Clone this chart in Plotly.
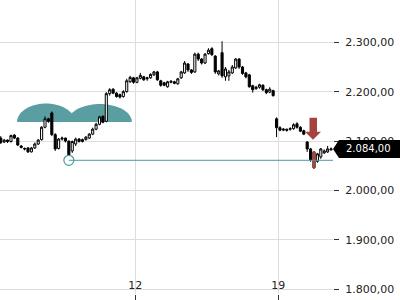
import numpy as np
import pandas as pd
import plotly.graph_objects as go

# ---- data (4-hour candles) ----
opens = [2106, 2098, 2102, 2099, 2112, 2106, 2090, 2085, 2086, 2078,
         2086, 2094, 2103, 2128, 2145, 2157, 2113, 2085, 2104, 2106,
         2100, 2080, 2094, 2104, 2099, 2103, 2106, 2114, 2124, 2134,
         2150, 2140, 2196, 2205, 2197, 2194, 2190, 2200, 2220, 2228,
         2219, 2227, 2230, 2226, 2228, 2234, 2240, 2222, 2218, 2210,
         2219, 2220, 2216, 2228, 2238, 2256, 2244, 2240, 2276, 2266,
         2258, 2277, 2287, 2272, 2236, 2279, 2230, 2232, 2238, 2248,
         2266, 2250, 2238, 2234, 2212, 2206, 2209, 2213, 2204, 2199,
         2202, 2145, 2127, 2122, 2124, 2124, 2125, 2135, 2128, 2121,
         2098, 2084, 2078, 2059, 2068, 2076, 2078, 2082]
highs = [2110, 2104, 2103, 2113, 2114, 2108, 2092, 2087, 2088, 2088,
         2097, 2104, 2130, 2150, 2147, 2160, 2116, 2106, 2109, 2107,
         2101, 2101, 2107, 2106, 2105, 2110, 2116, 2127, 2137, 2151,
         2152, 2199, 2207, 2207, 2199, 2196, 2203, 2226, 2232, 2230,
         2230, 2238, 2232, 2230, 2237, 2242, 2242, 2224, 2220, 2222,
         2223, 2222, 2228, 2242, 2262, 2258, 2246, 2279, 2279, 2268,
         2278, 2288, 2290, 2274, 2244, 2302, 2250, 2244, 2254, 2268,
         2268, 2252, 2240, 2236, 2214, 2212, 2216, 2215, 2206, 2209,
         2204, 2148, 2130, 2126, 2125, 2128, 2136, 2138, 2130, 2123,
         2100, 2086, 2079, 2076, 2086, 2083, 2090, 2087]
lows = [2094, 2096, 2096, 2097, 2104, 2090, 2085, 2081, 2076, 2077,
        2084, 2092, 2101, 2126, 2137, 2110, 2080, 2083, 2101, 2097,
        2061, 2076, 2090, 2097, 2097, 2101, 2104, 2112, 2122, 2132,
        2136, 2138, 2192, 2195, 2188, 2186, 2188, 2198, 2218, 2216,
        2217, 2225, 2222, 2222, 2226, 2232, 2222, 2210, 2211, 2208,
        2217, 2215, 2214, 2226, 2236, 2240, 2236, 2238, 2262, 2255,
        2256, 2275, 2272, 2236, 2233, 2228, 2222, 2222, 2236, 2246,
        2246, 2234, 2227, 2208, 2198, 2204, 2206, 2201, 2195, 2197,
        2190, 2108, 2120, 2120, 2119, 2121, 2123, 2125, 2118, 2112,
        2078, 2058, 2044, 2056, 2064, 2074, 2076, 2081]
closes = [2097, 2102, 2099, 2111, 2106, 2092, 2087, 2084, 2078, 2086,
          2094, 2102, 2128, 2145, 2140, 2113, 2084, 2104, 2106, 2100,
          2066, 2099, 2104, 2099, 2103, 2108, 2114, 2124, 2134, 2149,
          2138, 2196, 2204, 2197, 2190, 2189, 2200, 2222, 2229, 2219,
          2228, 2233, 2224, 2228, 2235, 2240, 2224, 2213, 2213, 2220,
          2221, 2217, 2226, 2240, 2258, 2244, 2239, 2276, 2266, 2258,
          2276, 2284, 2275, 2240, 2242, 2232, 2246, 2240, 2250, 2266,
          2250, 2237, 2230, 2210, 2204, 2209, 2214, 2204, 2198, 2205,
          2192, 2127, 2122, 2124, 2122, 2125, 2133, 2128, 2120, 2114,
          2084, 2062, 2046, 2074, 2084, 2080, 2084, 2084]

start_time = "2023-11-05 10:00"
candle_freq = "4h"
signal_index = 92          # highlighted (red) candle and arrow
support_index = 20         # candle where the support line starts
support_level = 2061
last_price = 2084
y_ticks = [1800, 1900, 2000, 2100, 2200, 2300]
x_range = ["2023-11-05 09:07", "2023-11-21 16:19"]
y_range = [1790.3, 2385.6]
# rounded pattern markers: (start, end, base price, top price)
domes = [("2023-11-06 05:12", "2023-11-09 01:12", 2138.6, 2176.0),
         ("2023-11-08 16:48", "2023-11-11 20:00", 2138.6, 2175.0)]

TEAL = "#4b9ca0"
DOME = "#5a9ea2"
RED = "#a5443f"
PLOT_W, PLOT_H = 333, 294

times = pd.date_range(start_time, periods=len(opens), freq=candle_freq)

fig = go.Figure()
fig.add_trace(go.Candlestick(
    x=times, open=opens, high=highs, low=lows, close=closes,
    increasing=dict(line=dict(color="black", width=1), fillcolor="white"),
    decreasing=dict(line=dict(color="black", width=1), fillcolor="black"),
    whiskerwidth=0, showlegend=False, hoverinfo="skip"))

s = signal_index
fig.add_trace(go.Candlestick(
    x=[times[s]], open=[opens[s]], high=[highs[s]], low=[lows[s]], close=[closes[s]],
    increasing=dict(line=dict(color=RED, width=1), fillcolor=RED),
    decreasing=dict(line=dict(color=RED, width=1), fillcolor=RED),
    whiskerwidth=0, showlegend=False, hoverinfo="skip"))

shapes = []
fmt = "%Y-%m-%d_%H:%M:%S"
for d0, d1, base, top in domes:
    t0, t1 = pd.Timestamp(d0), pd.Timestamp(d1)
    th = np.linspace(0, np.pi, 41)
    pts = []
    for a in th:
        t = t0 + (t1 - t0) * (1 - np.cos(a)) / 2
        pts.append(f"{t.strftime(fmt)},{base + (top - base) * np.sin(a):.2f}")
    shapes.append(dict(type="path", path="M " + " L ".join(pts) + " Z",
                       xref="x", yref="y", fillcolor=DOME, line=dict(width=0),
                       layer="below"))

# support line
shapes.append(dict(type="line", xref="x", yref="y",
                   x0=times[support_index], x1=x_range[1],
                   y0=support_level, y1=support_level,
                   line=dict(color=TEAL, width=1), layer="above"))

# red down arrow above the signal candle (x in pixels around the candle)
a_top, a_neck, a_tip = 2147, 2119, 2102.5
shapes.append(dict(type="path", xref="x", yref="y", xsizemode="pixel",
                   xanchor=times[s],
                   path=(f"M -4.5,{a_top} L 3,{a_top} L 3,{a_neck} L 7,{a_neck} "
                         f"L -1,{a_tip} L -9,{a_neck} L -4.5,{a_neck} Z"),
                   fillcolor=RED, line=dict(width=0), layer="above"))

# last price tag
yc = (last_price - y_range[0]) / (y_range[1] - y_range[0])
hh = 9 / PLOT_H
xn = 1 + 6 / PLOT_W
xr = 1 + 67 / PLOT_W
shapes.append(dict(type="path", xref="paper", yref="paper",
                   path=(f"M 1,{yc} L {xn},{yc + hh} L {xr},{yc + hh} "
                         f"L {xr},{yc - hh} L {xn},{yc - hh} Z"),
                   fillcolor="black", line=dict(width=0), layer="above"))

label = f"{last_price:,.2f}".replace(",", "X").replace(".", ",").replace("X", ".")

fig.add_trace(go.Scatter(
    x=[times[support_index]], y=[support_level], mode="markers",
    marker=dict(symbol="circle", size=10, color="white",
                line=dict(color=TEAL, width=1.2)),
    showlegend=False, hoverinfo="skip"))

fig.update_layout(
    width=400, height=300,
    margin=dict(l=0, r=400 - PLOT_W, t=0, b=300 - PLOT_H),
    paper_bgcolor="white", plot_bgcolor="white",
    separators=",.",
    boxgap=0.12,
    shapes=shapes,
    font=dict(family="DejaVu Sans", size=11, color="#222"),
    annotations=[dict(xref="paper", yref="paper", x=1 + 11 / PLOT_W, y=yc,
                      xanchor="left", yanchor="middle", text=label, showarrow=False,
                      font=dict(family="DejaVu Sans", size=10, color="white"))],
    xaxis=dict(type="date", range=x_range, rangeslider=dict(visible=False),
               dtick=7 * 86400000, tick0="2023-11-12", tickformat="%d",
               ticks="outside", ticklen=6, tickcolor="#333",
               ticklabelposition="inside", ticklabeloverflow="allow",
               showgrid=True, gridcolor="#dddddd",
               showline=False, zeroline=False,
               tickfont=dict(family="DejaVu Sans", size=11, color="#222")),
    yaxis=dict(side="right", range=y_range, tickvals=y_ticks, tickformat=",.2f",
               ticks="outside", ticklen=5, tickcolor="#333", ticklabelstandoff=4,
               ticklabeloverflow="allow",
               showgrid=True, gridcolor="#dddddd", showline=False, zeroline=False,
               tickfont=dict(family="DejaVu Sans", size=11, color="#222")),
)

fig.write_html("out.html")
